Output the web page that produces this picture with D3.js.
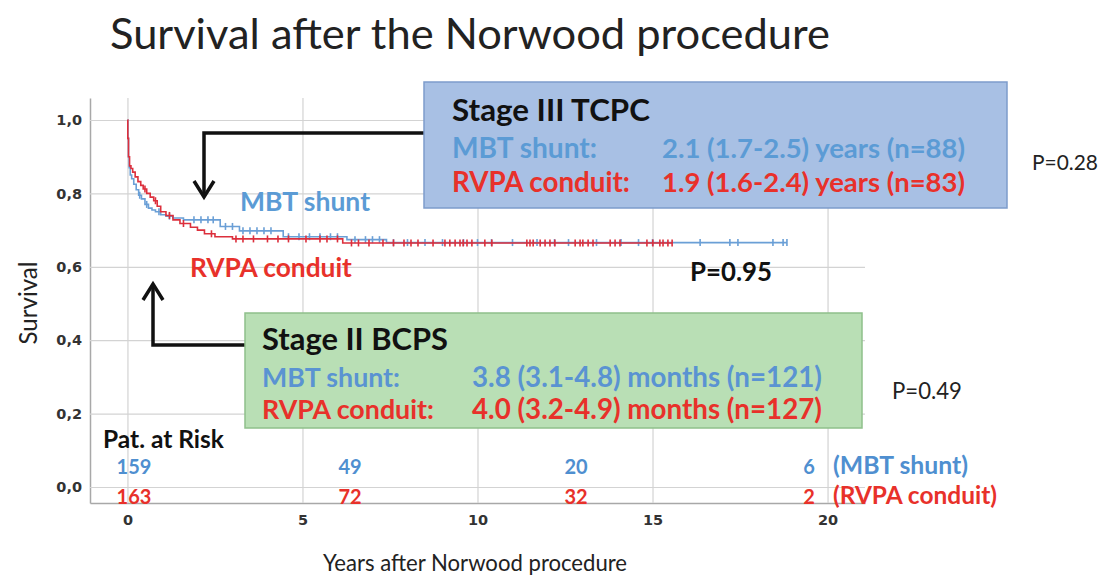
<!DOCTYPE html>
<html>
<head>
<meta charset="utf-8">
<script src="https://cdn.jsdelivr.net/npm/d3@7"></script>
<style>
  html, body { margin: 0; padding: 0; background: #fff; }
  svg { display: block; }
  .tick text { font-family: 'DejaVu Sans', 'Liberation Sans', sans-serif !important; font-size: 14.5px !important; font-weight: bold; fill: #333; }
</style>
</head>
<body>
<svg id="chart" width="1107" height="577"></svg>
<script>
// ---------------- DATA ----------------
const yTicks = [0, 0.2, 0.4, 0.6, 0.8, 1.0];
const xTicks = [0, 5, 10, 15, 20];

// Kaplan-Meier step points (years, survival)
const mbtTimes = [0, 0.01, 0.03, 0.05, 0.08, 0.12, 0.18, 0.25, 0.32, 0.4, 0.5, 0.6, 0.7, 0.8, 0.95, 1.1, 1.3, 1.6, 2.65, 3.2, 4.45, 6.27, 7.4];
const mbtSurv  = [1.0, 0.95, 0.9, 0.87, 0.85, 0.84, 0.825, 0.81, 0.795, 0.785, 0.77, 0.76, 0.755, 0.75, 0.742, 0.738, 0.733, 0.728, 0.71, 0.698, 0.682, 0.674, 0.666];
const mbtCensor = [0.35, 0.55, 0.9, 1.2, 1.9, 2.1, 2.3, 2.45, 2.8, 3.0, 3.3, 3.5, 3.7, 3.9, 4.1, 4.6, 4.9, 5.2, 5.5, 5.8, 6.0, 6.5, 6.8, 7.0, 7.2, 7.6, 8.0, 8.5, 9.0, 9.6, 10.0, 10.4, 11.0, 11.7, 12.2, 12.6, 13.4, 14.1, 14.6, 15.0, 16.36, 17.21, 17.44, 18.44, 18.73, 18.84];

const rvpaTimes = [0, 0.01, 0.03, 0.06, 0.1, 0.15, 0.22, 0.3, 0.38, 0.45, 0.55, 0.65, 0.75, 0.85, 0.95, 1.1, 1.3, 1.5, 1.8, 2.0, 2.2, 2.5, 3.0, 6.15];
const rvpaSurv  = [1.0, 0.95, 0.9, 0.875, 0.868, 0.858, 0.845, 0.832, 0.822, 0.812, 0.8, 0.79, 0.78, 0.765, 0.75, 0.74, 0.728, 0.718, 0.708, 0.7, 0.69, 0.682, 0.676, 0.665];
const rvpaCensor = [0.5, 0.8, 1.2, 1.6, 2.4, 3.1, 3.3, 3.6, 4.0, 4.3, 4.6, 5.1, 5.5, 5.7, 6.0, 6.4, 6.6, 6.9, 7.3, 7.6, 7.9, 8.1, 8.3, 8.73, 9.07, 9.21, 9.36, 9.5, 9.59, 9.7, 9.84, 10.21, 10.41, 11.41, 11.5, 11.59, 11.79, 11.93, 12.07, 12.21, 12.79, 12.93, 13.01, 13.16, 13.3, 13.79, 13.93, 14.07, 14.84, 15.01, 15.21, 15.3, 15.44, 15.56];

const groups = ["MBT shunt", "RVPA conduit"];
const atRiskMBT  = [159, 49, 20, 6];
const atRiskRVPA = [163, 72, 32, 2];

const stage3 = { title: "Stage III TCPC", rows: ["2.1 (1.7-2.5) years (n=88)", "1.9 (1.6-2.4) years (n=83)"], p: "P=0.28" };
const stage2 = { title: "Stage II BCPS", rows: ["3.8 (3.1-4.8) months (n=121)", "4.0 (3.2-4.9) months (n=127)"], p: "P=0.49" };
const survivalP = "P=0.95";

// ---------------- LAYOUT ----------------
const BLUE = "#5b9bd5", RED = "#e8312a";
const BLUE_LINE = "#6a9fd6", RED_LINE = "#dc2f3c";
const FONT = "Lato, 'Open Sans', sans-serif";
const svg = d3.select("#chart");
svg.append("rect").attr("width", 1107).attr("height", 577).attr("fill", "#fff");

const x = d3.scaleLinear().domain([-1.07, 21.07]).range([90, 865]);
const y = d3.scaleLinear().domain([-0.0436, 1.06]).range([503, 98]);

function fit(sel, w) {
  const n = sel.node();
  const fs = parseFloat(sel.attr("font-size"));
  const len = n.getComputedTextLength();
  if (len > 0) sel.attr("font-size", (fs * w / len).toFixed(2));
  return sel;
}
function txt(g, s, px, py, fs, opts = {}) {
  const t = g.append("text").attr("x", px).attr("y", py)
    .attr("font-family", opts.family || FONT)
    .attr("font-size", fs)
    .attr("font-weight", opts.weight || "normal")
    .attr("fill", opts.color || "#000")
    .attr("text-anchor", opts.anchor || "start")
    .text(s);
  if (opts.width) fit(t, opts.width);
  return t;
}

// grid + axes
const yAxis = d3.axisLeft(y).tickValues(yTicks).tickSize(-(865 - 90)).tickSizeOuter(0).tickPadding(8)
  .tickFormat(d => d3.format(".1f")(d).replace(".", ","));
const gy = svg.append("g").attr("transform", "translate(90,0)").call(yAxis);
gy.selectAll(".tick line").attr("stroke", "#d3d3d3").attr("stroke-width", 1.2);
gy.select(".domain").attr("stroke", "#a8a8a8").attr("stroke-width", 1.5);

const xAxis = d3.axisBottom(x).tickValues(xTicks).tickSize(-(503 - 98)).tickSizeOuter(0).tickPadding(12);
const gx = svg.append("g").attr("transform", "translate(0,503)").call(xAxis);
gx.selectAll(".tick line").attr("stroke", "#d3d3d3").attr("stroke-width", 1.2);
gx.select(".domain").attr("stroke", "#a8a8a8").attr("stroke-width", 1.5);

// KM curves
function kmPath(times, surv, endT) {
  const pts = times.map((t, i) => [t, surv[i]]);
  pts.push([endT, surv[surv.length - 1]]);
  return d3.line().x(d => x(d[0])).y(d => y(d[1])).curve(d3.curveStepAfter)(pts);
}
function survAt(times, surv, t) {
  let s = surv[0];
  for (let i = 0; i < times.length; i++) if (times[i] <= t) s = surv[i];
  return s;
}
const series = [
  { times: mbtTimes, surv: mbtSurv, cens: mbtCensor, color: BLUE_LINE },
  { times: rvpaTimes, surv: rvpaSurv, cens: rvpaCensor, color: RED_LINE }
];
series.forEach(s => {
  const g = svg.append("g");
  g.append("path").attr("d", kmPath(s.times, s.surv, d3.max(s.cens)))
    .attr("fill", "none").attr("stroke", s.color).attr("stroke-width", 1.6);
  g.selectAll("line.c").data(s.cens).join("line")
    .attr("x1", d => x(d)).attr("x2", d => x(d))
    .attr("y1", d => y(survAt(s.times, s.surv, d)) - 3.5)
    .attr("y2", d => y(survAt(s.times, s.surv, d)) + 3.5)
    .attr("stroke", s.color).attr("stroke-width", 1.6);
});

// Title and axis titles
txt(svg, "Survival after the Norwood procedure", 110, 49, 34, { color: "#222", width: 720 });
const yl = txt(svg, "Survival", 0, 0, 19, { color: "#222", anchor: "middle", width: 83 });
yl.attr("transform", "translate(37,303) rotate(-90)");
txt(svg, "Years after Norwood procedure", 475, 571, 20, { color: "#222", anchor: "middle", width: 304 });

// curve labels
txt(svg, groups[0], 240, 211, 21, { color: BLUE, weight: "bold", width: 130 });
txt(svg, groups[1], 190, 277, 21, { color: RED, weight: "bold", width: 162 });
txt(svg, survivalP, 690, 281, 20, { color: "#111", weight: "bold", width: 82 });

// arrows
const arrows = svg.append("g").attr("fill", "none").attr("stroke", "#111").attr("stroke-width", 3.5)
  .attr("stroke-linejoin", "miter");
arrows.append("path").attr("d", "M426,133 H204 V196");
arrows.append("path").attr("d", "M194,181 L204,197 L214,181");
arrows.append("path").attr("d", "M247,345 H153 V285");
arrows.append("path").attr("d", "M143,300 L153,284 L163,300");

// Stage III box
const b3 = svg.append("g");
b3.append("rect").attr("x", 424).attr("y", 82).attr("width", 583).attr("height", 126)
  .attr("fill", "#a8c0e4").attr("stroke", "#7d9ccb").attr("stroke-width", 1.5);
txt(b3, stage3.title, 452, 121, 26, { weight: "bold", color: "#111", width: 198 });
txt(b3, groups[0] + ":", 452, 158, 21, { color: BLUE, weight: "bold", width: 145 });
txt(b3, stage3.rows[0], 662, 158, 21, { color: BLUE, weight: "bold", width: 303 });
txt(b3, groups[1] + ":", 452, 192, 21, { color: RED, weight: "bold", width: 178 });
txt(b3, stage3.rows[1], 662, 192, 21, { color: RED, weight: "bold", width: 303 });
txt(svg, stage3.p, 1032, 170, 17, { color: "#222", width: 66 });

// Stage II box
const b2 = svg.append("g");
b2.append("rect").attr("x", 245).attr("y", 313).attr("width", 617).attr("height", 115)
  .attr("fill", "#b9dfb5").attr("stroke", "#8fc08b").attr("stroke-width", 1.5);
txt(b2, stage2.title, 262, 350, 26, { weight: "bold", color: "#111", width: 186 });
txt(b2, groups[0] + ":", 262, 387, 21, { color: "#5a93d2", weight: "bold", width: 138 });
txt(b2, stage2.rows[0], 472, 387, 21, { color: "#5a93d2", weight: "bold", width: 350 });
txt(b2, groups[1] + ":", 262, 419, 21, { color: RED, weight: "bold", width: 172 });
txt(b2, stage2.rows[1], 472, 419, 21, { color: RED, weight: "bold", width: 350 });
txt(svg, stage2.p, 892, 399, 17, { color: "#222", width: 70 });

// Patients at risk
txt(svg, "Pat. at Risk", 103, 448, 18, { weight: "bold", color: "#111", width: 121 });
const riskX = [134, 350, 576, 809];
atRiskMBT.forEach((v, i) => txt(svg, String(v), riskX[i], 474, 20, { color: "#4f8fd0", weight: "bold", anchor: "middle" }));
atRiskRVPA.forEach((v, i) => txt(svg, String(v), riskX[i], 504, 20, { color: RED, weight: "bold", anchor: "middle" }));
txt(svg, "(" + groups[0] + ")", 833, 474, 19, { color: "#4f8fd0", weight: "bold", width: 135 });
txt(svg, "(" + groups[1] + ")", 833, 504, 19, { color: RED, weight: "bold", width: 164 });
</script>
</body>
</html>
